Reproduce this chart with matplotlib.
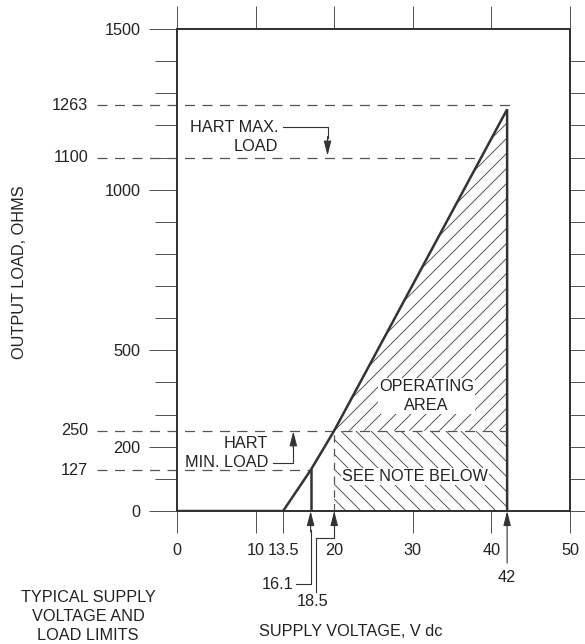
import matplotlib
matplotlib.use("Agg")
import matplotlib.pyplot as plt
import numpy as np

# ── Theme ────────────────────────────────────────────────────────────────
INK = "#222222"
LINE = "#333333"
DASH = "#555555"
FS = 13
LS = 1.35

plt.rcParams.update({
    "font.family": ["Liberation Sans", "DejaVu Sans"],
    "font.size": FS,
    "text.color": INK,
    "hatch.linewidth": 0.7,
})

# ── Data (as drawn on the chart) ─────────────────────────────────────────
load_v = [0.0, 13.5, 17.0, 20.0, 42.0, 42.0]        # operating boundary, V
load_r = [0, 0, 127, 250, 1250, 0]                 # ohms
min_v, min_r = 17.0, 127                           # 16.1 V marker
hart_v = 20.0                                      # 18.5 V marker
max_v = 42.0
ref_loads = [1263, 1100, 250, 127]
ref_ends = [43.1, 38.6, 42.0, 17.0]
y_major = [0, 200, 500, 1000, 1500]
y_minor = [100, 300, 400, 600, 700, 800, 900, 1100, 1200, 1300, 1400]
x_ticks = [0, 10, 13.5, 20, 30, 40, 50]
x_labels = ["0", "10", "13.5", "20", "30", "40", "50"]

fig = plt.figure(figsize=(6.5, 644 / 90), dpi=90)
ax = fig.add_axes([177 / 585, 133 / 644, 393 / 585, 482 / 644])
ax.set_xlim(0, 50)
ax.set_ylim(0, 1500)
for s in ax.spines.values():
    s.set_color(LINE)
    s.set_linewidth(1.6)

# ticks
ax.set_yticks(y_major)
ax.set_yticks(y_minor, minor=True)
ax.tick_params(axis="y", which="major", direction="out", length=22.4, width=0.8,
               color=DASH, pad=7, labelsize=FS, labelcolor=INK)
ax.tick_params(axis="y", which="minor", direction="out", length=17.6, width=0.8, color=DASH)
ax.set_xticks(x_ticks)
ax.set_xticklabels(x_labels)
ax.tick_params(axis="x", direction="out", length=17.6, width=0.8, color=DASH,
               pad=8, labelsize=FS, labelcolor=INK)

top = ax.secondary_xaxis("top")
top.set_xticks([0, 10, 20, 30, 40, 50])
top.set_xticklabels([])
top.tick_params(direction="out", length=18.4, width=0.8, color=DASH)
right = ax.secondary_yaxis("right")
right.set_yticks(np.arange(0, 1500, 100))
right.set_yticklabels([])
right.tick_params(direction="out", length=12, width=0.8, color=DASH)
for sec in (top, right):
    for s in sec.spines.values():
        s.set_visible(False)

# hatched regions
ax.fill([hart_v, max_v, max_v], [250, 1250, 250], facecolor="none", edgecolor="#444444",
        linewidth=0, hatch="//", zorder=1)
ax.fill([hart_v, max_v, max_v, hart_v], [0, 0, 250, 250], facecolor="none",
        edgecolor="#444444", linewidth=0, hatch="\\\\", zorder=1)

# reference dashed lines
for r, xe in zip(ref_loads, ref_ends):
    ax.plot([-10.2, xe], [r, r], color=DASH, lw=1, ls=(0, (8, 6)), clip_on=False, zorder=2)
    ax.text(-11.3, r, str(r), ha="right", va="center", fontsize=FS)
ax.plot([hart_v, hart_v], [0, 250], color=DASH, lw=1, ls=(0, (6, 5)), zorder=2)

# operating boundary
ax.plot(load_v, load_r, color=LINE, lw=2, solid_joinstyle="miter", zorder=4)
ax.plot([min_v, min_v], [0, min_r], color=LINE, lw=2, zorder=4)

arrow = dict(arrowstyle="-|>,head_length=0.7,head_width=0.18", color=LINE, lw=0.9,
             shrinkA=0, shrinkB=0, mutation_scale=14)

# HART max load
ax.text(12.85, 1164, "HART MAX.\nLOAD", ha="right", va="center", multialignment="right",
        linespacing=LS, fontsize=FS)
ax.plot([13.5, 19.15, 19.15], [1195, 1195, 1160], color=LINE, lw=0.9)
ax.annotate("", xy=(19.15, 1106), xytext=(19.15, 1165), arrowprops=arrow)

# HART min load
ax.text(11.6, 181, "HART\nMIN. LOAD", ha="right", va="center", multialignment="right",
        linespacing=LS, fontsize=FS)
ax.plot([12.2, 14.8, 14.8], [150, 150, 200], color=LINE, lw=0.9)
ax.annotate("", xy=(14.8, 248), xytext=(14.8, 195), arrowprops=arrow)

# area labels
ax.text(31.75, 358, "OPERATING\nAREA", ha="center", va="center", linespacing=1.3,
        fontsize=FS, zorder=5, bbox=dict(facecolor="white", edgecolor="none", pad=1))
ax.text(30.3, 107, "SEE NOTE BELOW", ha="center", va="center", fontsize=FS, zorder=5,
        bbox=dict(facecolor="white", edgecolor="none", pad=1))

# voltage markers below axis
ax.plot([15.1, min_v, min_v], [-227, -227, -60], color=LINE, lw=0.9, clip_on=False)
ax.annotate("", xy=(min_v, 0), xytext=(min_v, -65), arrowprops=arrow, annotation_clip=False)
ax.text(14.8, -230, "16.1", ha="right", va="center", fontsize=FS)

ax.plot([17.65, 17.65, hart_v, hart_v], [-252, -84, -84, -40], color=LINE, lw=0.9,
        clip_on=False)
ax.annotate("", xy=(hart_v, 0), xytext=(hart_v, -45), arrowprops=arrow, annotation_clip=False)
ax.text(17.3, -282, "18.5", ha="center", va="center", fontsize=FS)

ax.annotate("", xy=(max_v, 0), xytext=(max_v, -162), arrowprops=arrow, annotation_clip=False)
ax.text(max_v, -208, "42", ha="center", va="center", fontsize=FS)

# titles
ax.text(-20.0, 744, "OUTPUT LOAD, OHMS", rotation=90, ha="center", va="center", fontsize=FS)
ax.text(22.1, -376, "SUPPLY VOLTAGE, V dc", ha="center", va="center", fontsize=FS)
ax.text(-11.3, -329, "TYPICAL SUPPLY\nVOLTAGE AND\nLOAD LIMITS", ha="center", va="center",
        linespacing=LS, fontsize=FS)

fig.savefig("out.png", dpi=90)
